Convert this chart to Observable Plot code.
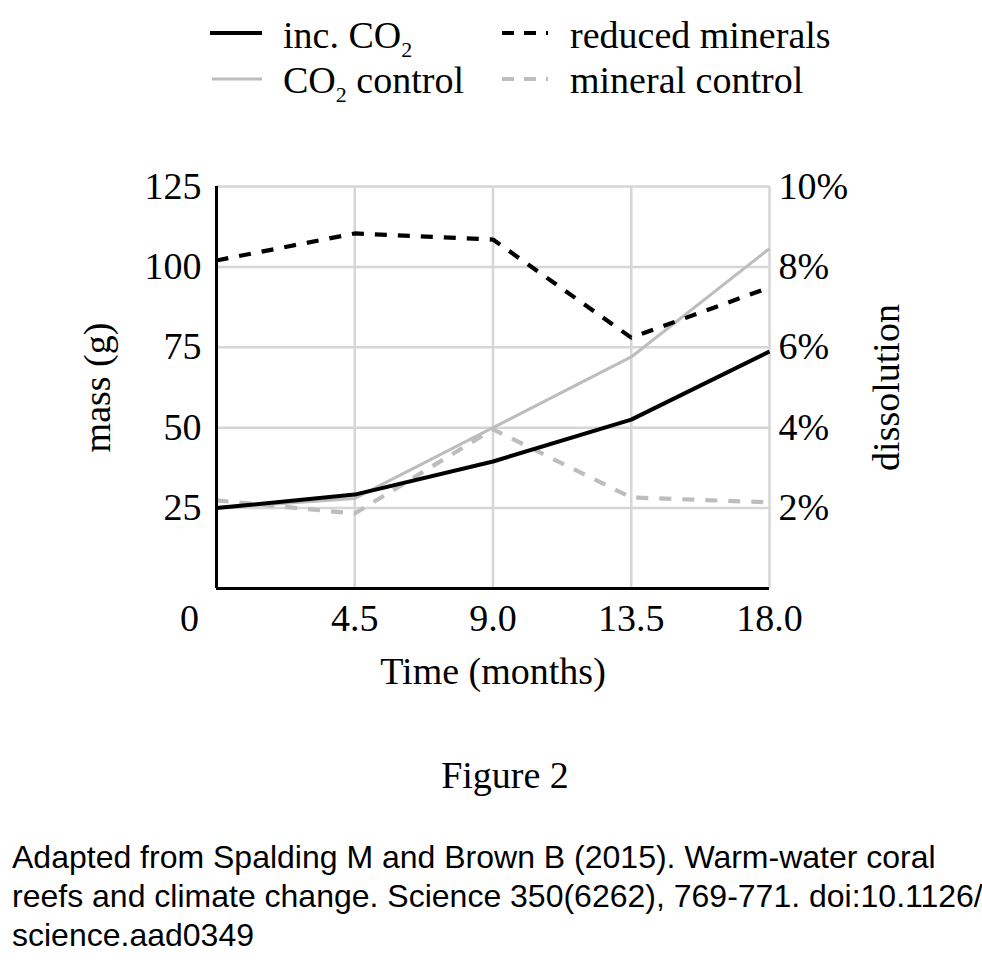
<!DOCTYPE html>
<html>
<head>
<meta charset="utf-8">
<script src="https://cdn.jsdelivr.net/npm/d3@7"></script>
<script src="https://cdn.jsdelivr.net/npm/@observablehq/plot@0.6"></script>
<style>
  html, body { margin: 0; padding: 0; background: #fff; }
  body { width: 982px; height: 964px; overflow: hidden; position: relative; font-family: "Liberation Serif", "DejaVu Serif", serif; color: #000; }
  #legend { position: relative; height: 120px; }
  .item { position: absolute; font-size: 38px; line-height: 30px; white-space: nowrap; }
  .sub { font-size: 22px; line-height: 1; position: relative; top: 9px; }
  .sw { position: absolute; overflow: visible; }
  #chart { position: absolute; left: 0; top: 120px; }
  #fig { position: absolute; left: 0; width: 1010px; top: 756px; text-align: center; font-size: 38px; line-height: 38px; }
  #cap { position: absolute; left: 12px; top: 838px; font-family: "Liberation Sans", Arial, sans-serif; font-size: 32px; line-height: 39px; white-space: nowrap; }
</style>
</head>
<body>
<div id="legend"></div>
<div id="chart"></div>
<div id="fig">Figure 2</div>
<div id="cap">Adapted from Spalding M and Brown B (2015). Warm-water coral<br>reefs and climate change. Science 350(6262), 769-771. doi:10.1126/<br>science.aad0349</div>
<script>
// ---- data (values in mass units, g) ----
const months = [0, 4.5, 9, 13.5, 18];
const incCO2 = [25, 29.2, 39.5, 52.5, 73.7];
const co2Control = [25, 28, 50, 72, 105.7];
const reducedMinerals = [102, 110.4, 108.5, 78, 93.6];
const mineralControl = [27.4, 23.3, 49.5, 28.3, 26.8];

const seriesNames = ["inc. CO2", "CO2 control", "reduced minerals", "mineral control"];
const legendHtml = ["inc. CO<span class=\"sub\">2</span>", "CO<span class=\"sub\">2</span> control", "reduced minerals", "mineral control"];

const xTicks = [4.5, 9, 13.5, 18];
const yTicks = [25, 50, 75, 100, 125];
const pctTicks = [2, 4, 6, 8, 10];     // right axis, %
const gPerPct = 12.5;                  // 10% aligns with 125 g
const xLabel = "Time (months)";
const yLabel = "mass (g)";
const y2Label = "dissolution";

const styles = {
  "inc. CO2":         {stroke: "#000000", strokeWidth: 4,   dash: null},
  "CO2 control":      {stroke: "#bdbdbd", strokeWidth: 3,   dash: null},
  "reduced minerals": {stroke: "#000000", strokeWidth: 4.2, dash: "12,11"},
  "mineral control":  {stroke: "#bdbdbd", strokeWidth: 4.2, dash: "12,11"}
};

const seriesValues = {
  "inc. CO2": incCO2,
  "CO2 control": co2Control,
  "reduced minerals": reducedMinerals,
  "mineral control": mineralControl
};

const table = seriesNames.flatMap(name =>
  months.map((m, i) => ({series: name, month: m, value: seriesValues[name][i]}))
);

// ---- legend ----
const legend = document.getElementById("legend");
const legendPos = [
  {sx: 210, tx: 283, y: 33, top: 20, w: 52},
  {sx: 212, tx: 283, y: 79, top: 65, w: 50},
  {sx: 502, tx: 570, y: 33, top: 20, w: 46},
  {sx: 502, tx: 570, y: 79, top: 65, w: 46}
];
seriesNames.forEach((name, i) => {
  const p = legendPos[i], s = styles[name];
  const svg = document.createElementNS("http://www.w3.org/2000/svg", "svg");
  svg.setAttribute("class", "sw");
  svg.setAttribute("width", p.w);
  svg.setAttribute("height", 10);
  svg.style.left = p.sx + "px";
  svg.style.top = (p.y - 5) + "px";
  const ln = document.createElementNS("http://www.w3.org/2000/svg", "line");
  ln.setAttribute("x1", 0); ln.setAttribute("x2", p.w);
  ln.setAttribute("y1", 5); ln.setAttribute("y2", 5);
  ln.setAttribute("stroke", s.stroke);
  ln.setAttribute("stroke-width", s.strokeWidth);
  if (s.dash) ln.setAttribute("stroke-dasharray", "12,10");
  svg.appendChild(ln);
  legend.appendChild(svg);
  const t = document.createElement("div");
  t.className = "item";
  t.style.left = p.tx + "px";
  t.style.top = p.top + "px";
  t.innerHTML = legendHtml[i];
  legend.appendChild(t);
});

// ---- chart ----
const gridStyle = {stroke: "#d6d6d6", strokeOpacity: 1, strokeWidth: 2.5};
const drawOrder = ["mineral control", "CO2 control", "reduced minerals", "inc. CO2"];

const chart = Plot.plot({
  width: 982,
  height: 600,
  marginTop: 66,
  marginBottom: 132,
  marginLeft: 216,
  marginRight: 213,
  style: {fontFamily: '"Liberation Serif", "DejaVu Serif", serif', fontSize: "38px", color: "#000", background: "#fff", overflow: "visible"},
  x: {domain: [0, 18]},
  y: {domain: [0, 125]},
  marks: [
    Plot.gridX(xTicks, gridStyle),
    Plot.gridY(yTicks, gridStyle),
    ...drawOrder.map(name => Plot.line(table.filter(d => d.series === name), {
      x: "month", y: "value",
      stroke: styles[name].stroke,
      strokeWidth: styles[name].strokeWidth,
      strokeDasharray: styles[name].dash,
      strokeLinecap: "butt",
      strokeLinejoin: "miter"
    })),
    Plot.ruleX([0], {stroke: "#000", strokeWidth: 3}),
    Plot.ruleY([0], {stroke: "#000", strokeWidth: 3}),
    Plot.axisX(xTicks, {tickSize: 0, tickPadding: 16, tickFormat: d => d.toFixed(1), label: null, fontSize: 38}),
    Plot.axisX([0], {tickSize: 0, tickPadding: 16, tickFormat: d => String(d), dx: -27, label: null, fontSize: 38}),
    Plot.axisY(yTicks, {anchor: "left", tickSize: 0, tickPadding: 15, label: null, fontSize: 38}),
    Plot.axisY(pctTicks.map(p => p * gPerPct), {anchor: "right", tickSize: 0, tickPadding: 9, tickFormat: d => (d / gPerPct) + "%", label: null, fontSize: 38}),
    Plot.text([xLabel], {text: d => d, frameAnchor: "bottom", dy: 95, fontSize: 38}),
    Plot.text([yLabel], {text: d => d, frameAnchor: "left", textAnchor: "middle", dx: -119, rotate: -90, fontSize: 38}),
    Plot.text([y2Label], {text: d => d, frameAnchor: "right", textAnchor: "middle", dx: 117, rotate: -90, fontSize: 38})
  ]
});
document.getElementById("chart").appendChild(chart);
</script>
</body>
</html>
